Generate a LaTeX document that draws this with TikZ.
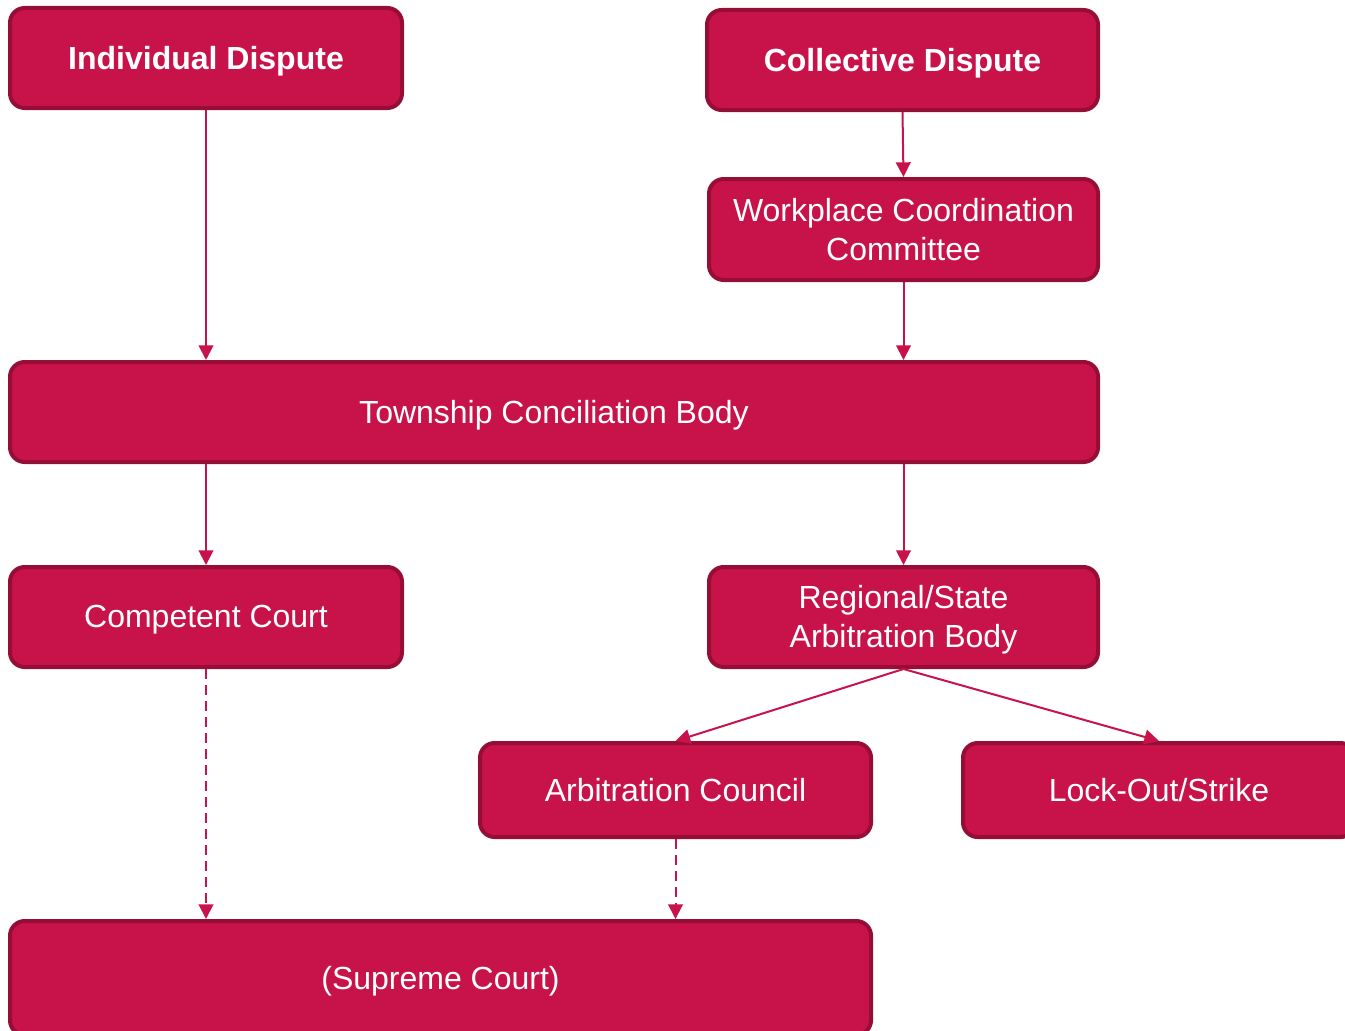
\documentclass[tikz,border=0pt]{standalone}
\usepackage{fontspec}
\setmainfont{Liberation Sans}
\usetikzlibrary{arrows.meta,positioning}
\definecolor{boxred}{HTML}{C8134A}
\definecolor{boxedge}{HTML}{960D35}
\begin{document}
\begin{tikzpicture}[x=0.75pt,y=-0.75pt,
	box/.style={draw=boxedge,fill=boxred,line width=3pt,rounded corners=11pt,text=white,
		align=center,minimum height=75pt,text depth=0.5pt,font=\fontsize{24}{29.5}\selectfont},
	head/.style={box,font=\fontsize{24}{29.5}\selectfont\bfseries},
	flow/.style={color=boxred,line width=1.5pt,-{Triangle[length=11pt,width=11pt]}},
	maybe/.style={flow,dash pattern=on 7.5pt off 4.5pt}]
		\useasboundingbox (0,0) rectangle (1345,1031);
		\clip (0,0) rectangle (1345,1031);
		\node[head,minimum width=294pt](ind) at (206,58) {Individual Dispute};
		\node[head,minimum width=293.25pt](col) at (902.5,60) {Collective Dispute};
		\node[box,minimum width=291.75pt,minimum height=75.75pt](wcc) at (903.5,229.5) {Workplace Coordination\\Committee};
		\node[box,minimum width=816pt](town) at (554,412) {Township Conciliation Body};
		\node[box,minimum width=294pt](comp) at (206,617) {Competent Court};
		\node[box,minimum width=291.75pt](reg) at (903.5,617) {Regional/State\\Arbitration Body};
		\node[box,minimum width=293.25pt,minimum height=70.5pt](arb) at (675.5,790) {Arbitration Council};
		\node[box,minimum width=294pt,minimum height=70.5pt](lock) at (1159,790) {Lock-Out/Strike};
		\node[box,minimum width=645.75pt,minimum height=85.5pt](sup) at (440.5,978) {(Supreme Court)};
		\path
		(ind.south) edge[flow] (ind.south |- town.north)
		(col.south) edge[flow] (wcc.north)
		(wcc.south) edge[flow] (wcc.south |- town.north)
		(town.south -| ind.south) edge[flow] (comp.north)
		(town.south -| reg.north) edge[flow] (reg.north)
		(reg.south) edge[flow] (arb.north)
		(reg.south) edge[flow] (lock.north)
		(comp.south) edge[maybe] (comp.south |- sup.north)
		(arb.south) edge[maybe] (arb.south |- sup.north);
\end{tikzpicture}
\end{document}
